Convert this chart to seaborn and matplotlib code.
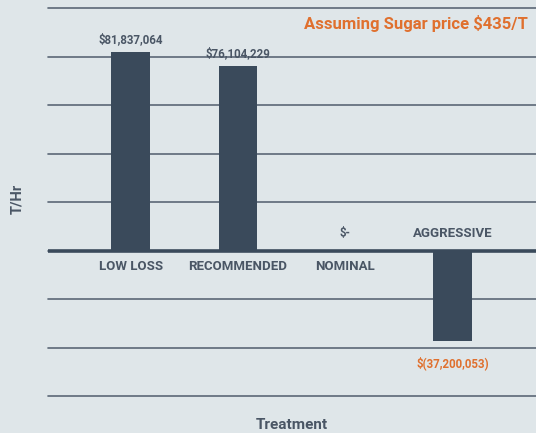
import numpy as np
import pandas as pd
import matplotlib
matplotlib.use('Agg')
import matplotlib.pyplot as plt
import seaborn as sns

# ── Data ──────────────────────────────────────────────────────────────────────
treatments = ['LOW LOSS', 'RECOMMENDED', 'NOMINAL', 'AGGRESSIVE']
values     = [81837064, 76104229, 0, -37200053]
labels     = ['$81,837,064', '$76,104,229', '$-', '$(37,200,053)']

BG     = '#dfe6e9'
BAR    = '#3a4a5b'
TEXT   = '#4a5665'
ORANGE = '#e0702e'

sns.set_theme(style='white')
plt.rcParams['font.family'] = ['Roboto', 'DejaVu Sans']

df = pd.DataFrame({'Treatment': treatments, 'Value': values})

fig = plt.figure(figsize=(5.36, 4.33), dpi=100, facecolor=BG)
ax = fig.add_axes([48 / 536, 1 - 396 / 433, 488 / 536, 388 / 433], facecolor=BG)

sns.barplot(data=df, x='Treatment', y='Value', color=BAR, width=0.36,
            saturation=1, linewidth=0, edgecolor=BAR, ax=ax, zorder=3)

ax.set_ylim(-60e6, 100e6)
ax.set_xlim(-0.77, 3.78)
for yv in np.arange(-60e6, 101e6, 20e6):
    ax.axhline(yv, color='#5b6776', lw=1.2, zorder=1, clip_on=False)
ax.axhline(0, color=BAR, lw=2.6, zorder=4)

for s in ax.spines.values():
    s.set_visible(False)
ax.set_xticks([])
ax.set_yticks([])
ax.set_xlabel('')
ax.set_ylabel('')

# category labels next to the zero line
for i, name in enumerate(treatments):
    if values[i] < 0:
        ax.text(i, 4.5e6, name, ha='center', va='bottom', fontsize=9.5,
                fontweight='bold', color=TEXT, zorder=5)
    else:
        ax.text(i, -4e6, name, ha='center', va='top', fontsize=9.5,
                fontweight='bold', color=TEXT, zorder=5)

# value labels
for i, (v, lab) in enumerate(zip(values, labels)):
    if v > 0:
        ax.text(i, v + 2.3e6, lab, ha='center', va='bottom', fontsize=8.3,
                fontweight='bold', color=TEXT, zorder=5)
    elif v < 0:
        ax.text(i, v - 6.5e6, lab, ha='center', va='top', fontsize=8.3,
                fontweight='bold', color=ORANGE, zorder=5)
    else:
        ax.text(i, 4.5e6, lab, ha='center', va='bottom', fontsize=8.3,
                fontweight='bold', color=TEXT, zorder=5)

fig.text(528 / 536, 1 - 23 / 433, 'Assuming Sugar price $435/T', ha='right',
         va='center', fontsize=12, fontweight='bold', color=ORANGE)
fig.text(17 / 536, 1 - 199 / 433, 'T/Hr', rotation=90, ha='center', va='center',
         fontsize=10.5, fontweight='bold', color=TEXT)
fig.text(292 / 536, 1 - 425 / 433, 'Treatment', ha='center', va='center',
         fontsize=11, fontweight='bold', color=TEXT)

fig.savefig('out.png', dpi=100, facecolor=BG)
